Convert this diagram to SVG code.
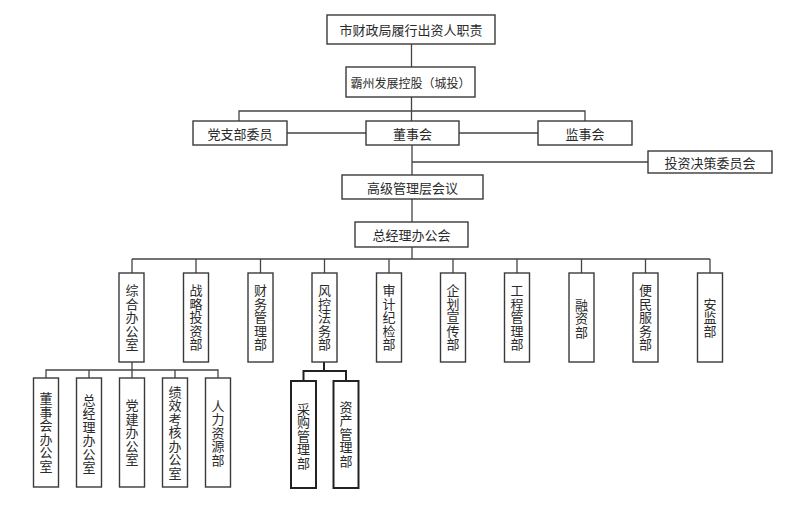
<svg xmlns="http://www.w3.org/2000/svg" width="800" height="509" viewBox="0 0 800 509">
<style>
.box{fill:#fff;stroke:#3a3a3a;stroke-width:1.4}
.boxb{fill:#fff;stroke:#222;stroke-width:2}
.ln{fill:none;stroke:#444;stroke-width:1.3}
.lnb{fill:none;stroke:#222;stroke-width:2}
text{font-family:"Noto Sans CJK SC","Noto Sans",sans-serif;font-size:13px;fill:#2a2a2a;text-anchor:middle;dominant-baseline:central}
.v{writing-mode:vertical-rl;text-orientation:upright;letter-spacing:0.5px;dominant-baseline:auto}
</style>
<rect width="800" height="509" fill="#fff"/>
<g id="connectors">
<path class="ln" d="M411.5 44V67M411.5 97V121M239 121V111H585V121M287 133H366M459 133H538M412 145V175M412 162H648M412 199V222M412 247V259"/>
<path class="ln" d="M132 259H710M132 259V273M196 259V273M260.5 259V273M324.5 259V273M389 259V273M453 259V273M517 259V273M581.5 259V273M645.5 259V273M710 259V273"/>
<path class="ln" d="M132 362V370M46 378V370H218V378M89 370V378M132 370V378M175 370V378"/>
<path class="lnb" d="M324 362V371M303.5 381V371H346V381"/>
</g>
<g id="n-top"><rect class="box" x="327" y="15" width="168" height="29"/><text x="411" y="29.5">市财政局履行出资人职责</text></g>
<g id="n-holding"><rect class="box" x="346" y="67" width="129" height="30"/><text x="410.5" y="82" style="font-size:12px">霸州发展控股（城投）</text></g>
<g id="n-party"><rect class="box" x="193" y="121" width="94" height="24"/><text x="240" y="133">党支部委员</text></g>
<g id="n-board"><rect class="box" x="366" y="121" width="93" height="24"/><text x="412.5" y="133">董事会</text></g>
<g id="n-supervisors"><rect class="box" x="538" y="121" width="94" height="24"/><text x="585" y="133">监事会</text></g>
<g id="n-invest"><rect class="box" x="648" y="151" width="124" height="22"/><text x="710" y="162">投资决策委员会</text></g>
<g id="n-senior"><rect class="box" x="342" y="175" width="141" height="24"/><text x="412.5" y="187">高级管理层会议</text></g>
<g id="n-gm"><rect class="box" x="355" y="222" width="113" height="25"/><text x="411.5" y="234.5">总经理办公会</text></g>

<g id="d1"><rect class="box" x="119" y="273" width="25" height="89"/><text class="v" x="132" y="317.5">综合办公室</text></g>
<g id="d2"><rect class="box" x="183.5" y="273" width="25" height="89"/><text class="v" x="196" y="317.5">战略投资部</text></g>
<g id="d3"><rect class="box" x="248" y="273" width="25" height="89"/><text class="v" x="260.5" y="317.5">财务管理部</text></g>
<g id="d4"><rect class="box" x="312" y="273" width="25" height="89"/><text class="v" x="324.5" y="317.5">风控法务部</text></g>
<g id="d5"><rect class="box" x="376.5" y="273" width="25" height="89"/><text class="v" x="389" y="317.5">审计纪检部</text></g>
<g id="d6"><rect class="box" x="440.5" y="273" width="25" height="89"/><text class="v" x="453" y="317.5">企划宣传部</text></g>
<g id="d7"><rect class="box" x="504.5" y="273" width="25" height="89"/><text class="v" x="517" y="317.5">工程管理部</text></g>
<g id="d8"><rect class="box" x="569" y="273" width="25" height="89"/><text class="v" x="581.5" y="318.5">融资部</text></g>
<g id="d9"><rect class="box" x="633" y="273" width="25" height="89"/><text class="v" x="645.5" y="317.5">便民服务部</text></g>
<g id="d10"><rect class="box" x="697.5" y="273" width="25" height="89"/><text class="v" x="710" y="317.5">安监部</text></g>

<g id="s1"><rect class="box" x="33.5" y="378" width="25" height="109"/><text class="v" x="46" y="432.5">董事会办公室</text></g>
<g id="s2"><rect class="box" x="76.5" y="378" width="25" height="109"/><text class="v" x="89" y="434">总经理办公室</text></g>
<g id="s3"><rect class="box" x="119.5" y="378" width="25" height="109"/><text class="v" x="132" y="432.5">党建办公室</text></g>
<g id="s4"><rect class="box" x="162.5" y="378" width="25" height="109"/><text class="v" x="175" y="432.5">绩效考核办公室</text></g>
<g id="s5"><rect class="box" x="205.5" y="378" width="25" height="109"/><text class="v" x="218" y="433">人力资源部</text></g>

<g id="r1"><rect class="boxb" x="291" y="381" width="25" height="107"/><text class="v" x="303.5" y="436">采购管理部</text></g>
<g id="r2"><rect class="boxb" x="333.5" y="381" width="25" height="107"/><text class="v" x="346" y="434">资产管理部</text></g>
</svg>
